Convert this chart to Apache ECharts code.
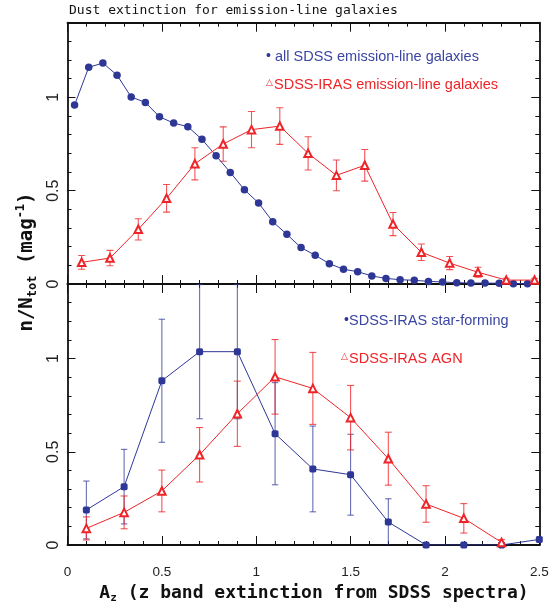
<!DOCTYPE html>
<html><head><meta charset="utf-8">
<script src="https://cdn.jsdelivr.net/npm/echarts@6/dist/echarts.min.js"></script>
<style>html,body{margin:0;padding:0;background:#fff}#c{width:555px;height:607px}</style>
</head><body><div id="c"></div>
<script>
// ---- data ----
const xTickLabels = ['0', '0.5', '1', '1.5', '2', '2.5'];
const yTickLabels = ['0', '0.5', '1'];

// top panel: all SDSS emission-line galaxies
const allX = [0.0375, 0.1125, 0.1875, 0.2625, 0.3375, 0.4125, 0.4875, 0.5625, 0.6375, 0.7125, 0.7875,
  0.8625, 0.9375, 1.0125, 1.0875, 1.1625, 1.2375, 1.3125, 1.3875, 1.4625, 1.5375, 1.6125,
  1.6875, 1.7625, 1.8375, 1.9125, 1.9875, 2.0625, 2.1375, 2.2125, 2.2875, 2.3625, 2.4375];
const allY = [0.959, 1.161, 1.184, 1.119, 1.002, 0.973, 0.896, 0.862, 0.843, 0.775, 0.687,
  0.598, 0.505, 0.434, 0.334, 0.266, 0.195, 0.154, 0.109, 0.079, 0.066, 0.043,
  0.030, 0.023, 0.020, 0.014, 0.011, 0.007, 0.005, 0.005, 0.004, 0.002, 0.002];

// top panel: SDSS-IRAS emission-line galaxies
const irasX = [0.075, 0.225, 0.375, 0.525, 0.675, 0.825, 0.975, 1.125, 1.275, 1.425, 1.575,
  1.725, 1.875, 2.025, 2.175, 2.325, 2.475];
const irasY = [0.116, 0.139, 0.293, 0.459, 0.644, 0.750, 0.827, 0.846, 0.700, 0.582, 0.636,
  0.321, 0.170, 0.112, 0.063, 0.021, 0.021];
const irasErr = [0.037, 0.041, 0.057, 0.074, 0.086, 0.092, 0.097, 0.098, 0.089, 0.082, 0.085,
  0.062, 0.044, 0.035, 0.027, 0.010, 0.010];

// bottom panel: SDSS-IRAS star-forming
const sfX = [0.1, 0.3, 0.5, 0.7, 0.9, 1.1, 1.3, 1.5, 1.7, 1.9, 2.1, 2.3, 2.5];
const sfY = [0.188, 0.313, 0.881, 1.037, 1.037, 0.597, 0.408, 0.377, 0.123, 0, 0, 0, 0.030];
const sfErr = [0.155, 0.200, 0.330, 0.360, 0.360, 0.274, 0.230, 0.217, 0.125, 0, 0, 0, 0];

// bottom panel: SDSS-IRAS AGN
const agnX = [0.1, 0.3, 0.5, 0.7, 0.9, 1.1, 1.3, 1.5, 1.7, 1.9, 2.1, 2.3];
const agnY = [0.089, 0.175, 0.290, 0.484, 0.704, 0.902, 0.840, 0.683, 0.463, 0.220, 0.143, 0.014];
const agnErr = [0.062, 0.088, 0.112, 0.146, 0.175, 0.200, 0.193, 0.173, 0.142, 0.098, 0.079, 0.015];

// ---- styling ----
const BLUE = '#2e3796';
const RED = '#ee2428';
const BLUE_ERR = 'rgba(46,55,150,0.72)';
const RED_ERR = 'rgba(238,36,40,0.78)';
const BLACK = '#111';
const MONO = '"DejaVu Sans Mono", monospace';
const SANS = '"Liberation Sans", Arial, sans-serif';

const zip = (xs, ys) => xs.map((x, i) => [x, ys[i]]);
const zip3 = (xs, ys, es) => xs.map((x, i) => [x, ys[i], es[i]]);

function xAx(grid, pos, showLabel) {
  return {
    type: 'value', gridIndex: grid, position: pos, min: 0, max: 2.5, interval: 0.5,
    axisLine: { onZero: false, lineStyle: { color: BLACK, width: 1.8 } },
    axisTick: { inside: true, length: 9, lineStyle: { color: BLACK, width: 1 } },
    minorTick: { show: true, splitNumber: 5, length: 4, lineStyle: { color: BLACK, width: 1 } },
    axisLabel: {
      show: showLabel, margin: 20, fontSize: 13.5, color: '#222', fontFamily: SANS,
      formatter: (v) => xTickLabels[Math.round(v / 0.5)]
    },
    splitLine: { show: false }, minorSplitLine: { show: false }
  };
}
function yMajor(grid, pos, showLabel) {
  return {
    type: 'value', gridIndex: grid, position: pos, min: 0, max: 1.4, interval: 0.5,
    axisLine: { onZero: false, lineStyle: { color: BLACK, width: 1.8 } },
    axisTick: { inside: true, length: 8, lineStyle: { color: BLACK, width: 1 } },
    axisLabel: {
      show: showLabel, rotate: 90, margin: 6, fontSize: 16, color: '#222', fontFamily: SANS,
      showMaxLabel: false,
      formatter: (v) => (yTickLabels[Math.round(v / 0.5)] || '')
    },
    splitLine: { show: false }
  };
}
function yMinor(grid, pos) {
  return {
    type: 'value', gridIndex: grid, position: pos, min: 0, max: 1.4, interval: 0.1,
    axisLine: { show: false, onZero: false },
    axisTick: { inside: true, length: 4, lineStyle: { color: BLACK, width: 1 } },
    axisLabel: { show: false },
    splitLine: { show: false }
  };
}

function errSeries(data, xi, yi, color, half) {
  return {
    type: 'custom', xAxisIndex: xi, yAxisIndex: yi, clip: true, z: 1,
    data: data, encode: { x: 0, y: 1 },
    renderItem: function (params, api) {
      const x = api.value(0), y = api.value(1), e = api.value(2);
      if (!e) return null;
      const lo = api.coord([x, y - e]);
      const hi = api.coord([x, y + e]);
      const st = { stroke: color, lineWidth: 1.1 };
      return {
        type: 'group', children: [
          { type: 'line', shape: { x1: lo[0], y1: lo[1], x2: hi[0], y2: hi[1] }, style: st },
          { type: 'line', shape: { x1: lo[0] - half, y1: lo[1], x2: lo[0] + half, y2: lo[1] }, style: st },
          { type: 'line', shape: { x1: hi[0] - half, y1: hi[1], x2: hi[0] + half, y2: hi[1] }, style: st }
        ]
      };
    }
  };
}

const chart = echarts.init(document.getElementById('c'), null, { renderer: 'canvas' });
chart.setOption({
  animation: false,
  backgroundColor: '#fff',
  grid: [
    { left: 67.5, top: 22.7, width: 471.8, height: 261.3 },
    { left: 67.5, top: 284, width: 471.8, height: 261 }
  ],
  xAxis: [xAx(0, 'bottom', false), xAx(0, 'top', false), xAx(1, 'bottom', true), xAx(1, 'top', false)],
  yAxis: [
    yMajor(0, 'left', true), yMinor(0, 'left'), yMajor(0, 'right', false), yMinor(0, 'right'),
    yMajor(1, 'left', true), yMinor(1, 'left'), yMajor(1, 'right', false), yMinor(1, 'right')
  ],
  series: [
    {
      type: 'line', name: 'all SDSS emission-line galaxies', xAxisIndex: 0, yAxisIndex: 0, z: 2,
      data: zip(allX, allY), symbol: 'circle', symbolSize: 7.5,
      itemStyle: { color: BLUE }, lineStyle: { color: BLUE, width: 1 }
    },
    errSeries(zip3(irasX, irasY, irasErr), 0, 0, RED_ERR, 3.5),
    {
      type: 'line', name: 'SDSS-IRAS emission-line galaxies', xAxisIndex: 0, yAxisIndex: 0, z: 3,
      data: zip(irasX, irasY), symbol: 'emptyTriangle', symbolSize: 7.5,
      itemStyle: { color: RED, borderWidth: 1.6 }, lineStyle: { color: RED, width: 1 }
    },
    errSeries(zip3(sfX, sfY, sfErr), 2, 4, BLUE_ERR, 3.2),
    {
      type: 'line', name: 'SDSS-IRAS star-forming', xAxisIndex: 2, yAxisIndex: 4, z: 2,
      data: zip(sfX, sfY), symbol: 'roundRect', symbolSize: 7,
      itemStyle: { color: BLUE }, lineStyle: { color: BLUE, width: 1 }
    },
    errSeries(zip3(agnX, agnY, agnErr), 2, 4, RED_ERR, 3.5),
    {
      type: 'line', name: 'SDSS-IRAS AGN', xAxisIndex: 2, yAxisIndex: 4, z: 3,
      data: zip(agnX, agnY), symbol: 'emptyTriangle', symbolSize: 7.5,
      itemStyle: { color: RED, borderWidth: 1.6 }, lineStyle: { color: RED, width: 1 }
    }
  ],
  graphic: [
    { type: 'text', x: 69, y: 10.5, style: { text: 'Dust extinction for emission-line galaxies', fill: '#111', font: '13px ' + MONO, verticalAlign: 'middle', align: 'left' } },
    // legends
    { type: 'text', x: 266, y: 56.5, style: { text: '•', fill: BLUE, font: '14px ' + SANS, verticalAlign: 'middle', align: 'left' } },
    { type: 'text', x: 275, y: 57, style: { text: 'all SDSS emission-line galaxies', fill: '#3b45a2', font: '14.5px ' + SANS, verticalAlign: 'middle', align: 'left' } },
    { type: 'text', x: 266, y: 83, style: { text: '△', fill: RED, font: '9px "DejaVu Sans"', verticalAlign: 'middle', align: 'left' } },
    { type: 'text', x: 274, y: 84.5, style: { text: 'SDSS-IRAS emission-line galaxies', fill: RED, font: '14.5px ' + SANS, verticalAlign: 'middle', align: 'left' } },
    { type: 'text', x: 344, y: 320.5, style: { text: '•', fill: BLUE, font: '14px ' + SANS, verticalAlign: 'middle', align: 'left' } },
    { type: 'text', x: 349, y: 321, style: { text: 'SDSS-IRAS star-forming', fill: '#3b45a2', font: '14.5px ' + SANS, verticalAlign: 'middle', align: 'left' } },
    { type: 'text', x: 341, y: 357, style: { text: '△', fill: RED, font: '9px "DejaVu Sans"', verticalAlign: 'middle', align: 'left' } },
    { type: 'text', x: 349, y: 358.5, style: { text: 'SDSS-IRAS AGN', fill: RED, font: '14.5px ' + SANS, verticalAlign: 'middle', align: 'left' } },
    // axis titles
    {
      type: 'text', x: 314, y: 593,
      style: {
        text: 'A{s|z} (z band extinction from SDSS spectra)', fill: '#111',
        fontFamily: 'DejaVu Sans Mono', fontSize: 18, fontWeight: 'bold', lineHeight: 22,
        align: 'center', verticalAlign: 'middle',
        rich: { s: { fontFamily: 'DejaVu Sans Mono', fontSize: 11, fontWeight: 'bold', lineHeight: 11, verticalAlign: 'bottom' } }
      }
    },
    {
      type: 'text', x: 27, y: 262, rotation: Math.PI / 2,
      style: {
        text: 'n/N{s|tot} (mag{p|-1})', fill: '#111',
        fontFamily: 'DejaVu Sans Mono', fontSize: 19, fontWeight: 'bold', lineHeight: 24,
        align: 'center', verticalAlign: 'middle',
        rich: {
          s: { fontFamily: 'DejaVu Sans Mono', fontSize: 12, fontWeight: 'bold', lineHeight: 12, verticalAlign: 'bottom' },
          p: { fontFamily: 'DejaVu Sans Mono', fontSize: 12, fontWeight: 'bold', lineHeight: 12, verticalAlign: 'top' }
        }
      }
    }
  ]
});
</script>
</body></html>
